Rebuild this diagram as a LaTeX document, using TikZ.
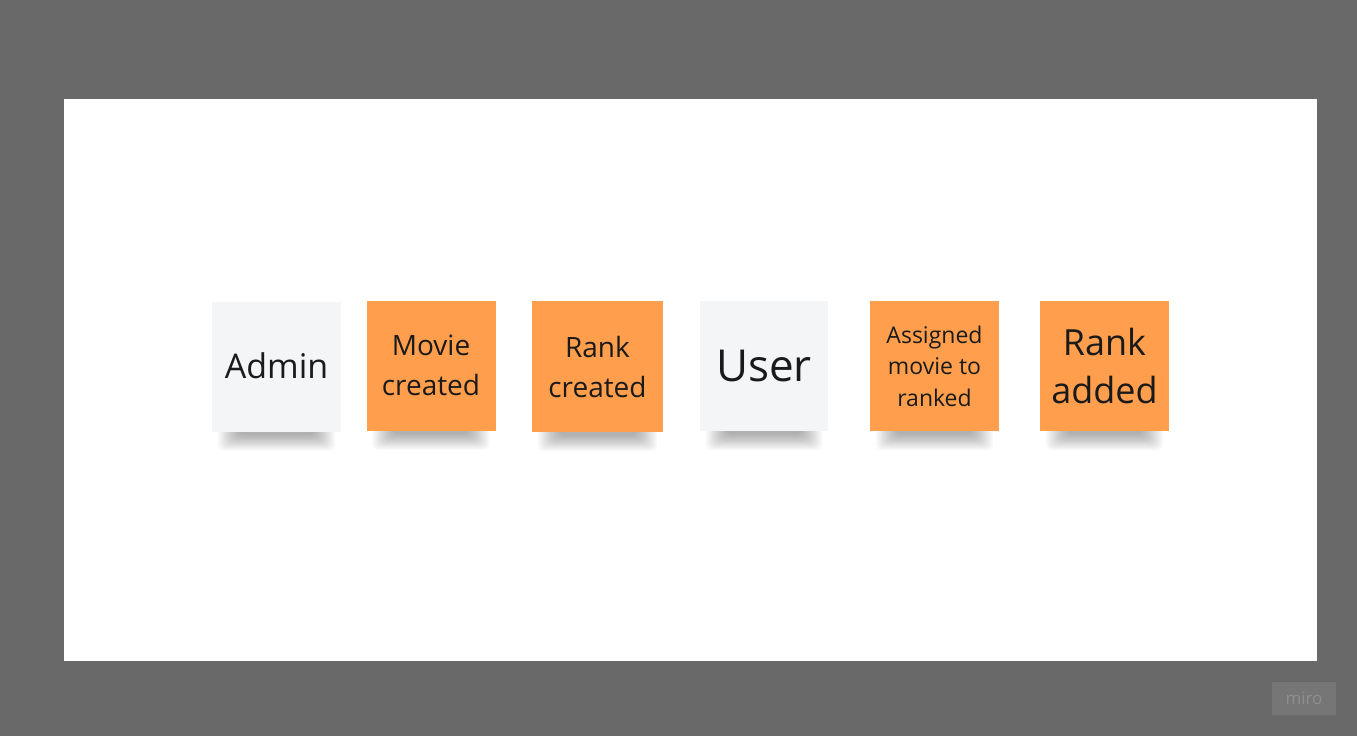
\documentclass[tikz,border=0pt]{standalone}
\usepackage{fontspec}
\setmainfont{Open Sans}
\usetikzlibrary{calc}
\pgfdeclarelayer{board}
\pgfdeclarelayer{background}
\pgfsetlayers{board,background,main}
\definecolor{frame}{HTML}{696969}
\definecolor{orangenote}{HTML}{FF9F4D}
\definecolor{whitenote}{HTML}{F4F5F7}
\definecolor{txt}{HTML}{1A1A1A}
\definecolor{mirobox}{HTML}{767676}
\definecolor{mirotext}{HTML}{8E8E8E}
\tikzset{
  note/.style={minimum width=129pt, minimum height=130pt, inner sep=0pt, align=center, text=txt},
  orangestyle/.style={note, fill=orangenote},
  whitestyle/.style={note, fill=whitenote},
}
\newcommand{\noteshadow}[1]{%
  \begin{pgfonlayer}{background}
  \foreach \k in {0,...,13}{
    \fill[black, opacity=0.022, rounded corners=5pt] ($(#1.south west)+(6+1.6*\k,-6)$) rectangle ($(#1.south east)+(-6-1.6*\k,19-1.2*\k)$);
  }
  \end{pgfonlayer}}
\begin{document}
\begin{tikzpicture}[x=1pt, y=-1pt]
\begin{pgfonlayer}{board}
\fill[frame] (0,0) rectangle (1357,736);
\fill[white] (64,99) rectangle (1317,661);
\end{pgfonlayer}
\useasboundingbox (0,0) rectangle (1357,736);

\node[whitestyle, font=\fontsize{34}{40}\selectfont] (admin) at (276.5,366.5) {\raisebox{2pt}{Admin}};
\node[orangestyle, font=\fontsize{28}{40}\selectfont] (movie) at (431,365.5) {Movie\\created};
\node[orangestyle, font=\fontsize{28}{40}\selectfont, minimum width=131pt, minimum height=131pt] (rank) at (597.5,366.5) {Rank\\created};
\node[whitestyle, font=\fontsize{44}{50}\selectfont, minimum width=128pt] (user) at (764,366) {User};
\node[orangestyle, font=\fontsize{23}{32}\selectfont] (assigned) at (934.5,366) {Assigned\\[-0.5pt]movie to\\[-0.5pt]ranked};
\node[orangestyle, font=\fontsize{36}{48}\selectfont] (rankadded) at (1104.5,366) {Rank\\added};

\noteshadow{admin}
\noteshadow{movie}
\noteshadow{rank}
\noteshadow{user}
\noteshadow{assigned}
\noteshadow{rankadded}

\node[fill=mirobox, minimum width=64pt, minimum height=33pt, inner sep=0pt, text=mirotext, font=\fontsize{17}{20}\selectfont] (miro) at (1304,698.5) {miro};
\end{tikzpicture}
\end{document}
